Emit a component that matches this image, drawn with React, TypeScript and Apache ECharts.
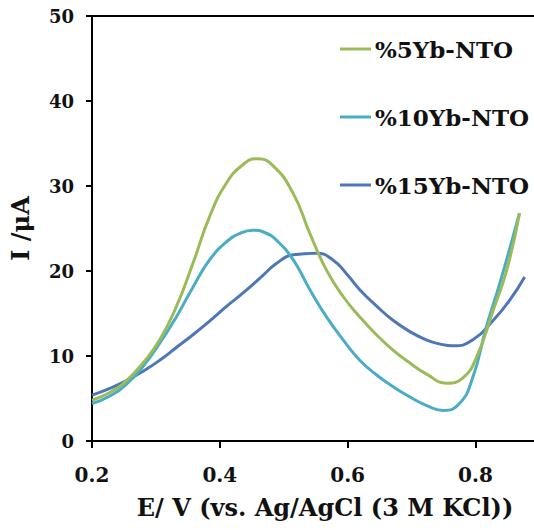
import React, { useEffect, useRef } from "react";
import * as echarts from "echarts";

const seriesNames = ["%5Yb-NTO", "%10Yb-NTO", "%15Yb-NTO"];
const seriesColors = ["#9BBB59", "#4BACC6", "#4F77B8"];

const v5 = [0.2, 0.228, 0.254, 0.28, 0.306, 0.332, 0.358, 0.384, 0.41, 0.436, 0.457, 0.483, 0.515, 0.541, 0.567, 0.593, 0.619, 0.645, 0.671, 0.697, 0.723, 0.755, 0.78, 0.802, 0.828, 0.849, 0.869];
const i5 = [4.8, 5.7, 7.1, 9.2, 11.9, 15.8, 20.9, 26.4, 30.3, 32.5, 33.2, 32.4, 29.1, 24.4, 20.1, 17.0, 14.6, 12.5, 10.7, 9.2, 7.9, 6.8, 7.4, 9.9, 15.4, 20.1, 26.8];

const v10 = [0.2, 0.228, 0.254, 0.28, 0.306, 0.332, 0.358, 0.384, 0.41, 0.431, 0.452, 0.471, 0.489, 0.515, 0.541, 0.567, 0.593, 0.619, 0.645, 0.671, 0.697, 0.723, 0.749, 0.775, 0.796, 0.817, 0.838, 0.869];
const i10 = [4.4, 5.3, 6.7, 8.8, 11.5, 14.6, 18.1, 21.3, 23.4, 24.4, 24.8, 24.5, 23.6, 21.3, 17.8, 14.6, 11.9, 9.5, 7.8, 6.4, 5.2, 4.2, 3.6, 4.4, 7.5, 13.4, 18.5, 26.8];

const v15 = [0.2, 0.228, 0.254, 0.28, 0.306, 0.332, 0.358, 0.384, 0.41, 0.436, 0.462, 0.489, 0.515, 0.551, 0.577, 0.598, 0.619, 0.645, 0.671, 0.697, 0.723, 0.745, 0.765, 0.796, 0.828, 0.854, 0.877];
const i15 = [5.4, 6.2, 7.1, 8.2, 9.5, 11.0, 12.5, 14.1, 15.8, 17.4, 19.1, 20.9, 21.9, 22.1, 21.3, 19.7, 17.8, 15.9, 14.2, 12.9, 11.9, 11.4, 11.2, 11.9, 14.2, 16.6, 19.3];

const xTicks = [0.2, 0.4, 0.6, 0.8];
const yTicks = [0, 10, 20, 30, 40, 50];

const FONT = "DejaVu Serif";

export default function App() {
  const ref = useRef<HTMLDivElement>(null);
  useEffect(() => {
    if (!ref.current) return;
    const chart = echarts.init(ref.current, null, { renderer: "svg" });
    const pairs = (xs: number[], ys: number[]) => xs.map((x, k) => [x, ys[k]]);
    const data = [pairs(v5, i5), pairs(v10, i10), pairs(v15, i15)];
    const xMax = 0.2 + 442 / 639;
    const legendTops = [44, 112, 180];
    chart.setOption({
      animation: false,
      backgroundColor: "#ffffff",
      grid: { left: 92, right: 0, top: 16, bottom: 89, containLabel: false },
      legend: seriesNames.map((n, k) => ({
        data: [n],
        left: 335,
        top: legendTops[k] - 15,
        icon: "rect",
        itemWidth: 31,
        itemHeight: 3,
        itemGap: 0,
        textStyle: { fontFamily: FONT, fontWeight: "bold", fontSize: 23, color: "#111", padding: [0, 0, 0, -1], lineHeight: 30 },
        selectedMode: false,
      })),
      xAxis: [
        {
          type: "value",
          min: 0.2,
          max: xMax,
          interval: 0.2,
          name: "E/ V (vs. Ag/AgCl (3 M KCl))",
          nameLocation: "middle",
          nameGap: 54,
          nameTextStyle: { fontFamily: FONT, fontWeight: "bold", fontSize: 24, color: "#111", padding: [0, 0, 0, 24] },
          axisLine: { show: true, onZero: false, lineStyle: { color: "#000", width: 2 } },
          axisTick: { show: true, length: 7, lineStyle: { color: "#000", width: 2 } },
          axisLabel: {
            showMaxLabel: false,
            margin: 24,
            fontFamily: FONT,
            fontWeight: "bold",
            fontSize: 20,
            color: "#111",
            formatter: (val: number) => {
              const t = xTicks.find((x) => Math.abs(x - val) < 1e-6);
              return t === undefined ? "" : t.toFixed(1);
            },
          },
          splitLine: { show: false },
        },
        {
          type: "value",
          position: "top",
          min: 0.2,
          max: xMax,
          axisLine: { show: true, onZero: false, lineStyle: { color: "#000", width: 2 } },
          axisTick: { show: false },
          axisLabel: { show: false },
          splitLine: { show: false },
        },
      ],
      yAxis: {
        type: "value",
        min: 0,
        max: 50,
        interval: 10,
        name: "I /μA",
        nameLocation: "middle",
        nameGap: 60,
        nameRotate: 90,
        nameTextStyle: { fontFamily: FONT, fontWeight: "bold", fontSize: 24, color: "#111" },
        axisLine: { show: true, onZero: false, lineStyle: { color: "#000", width: 2 } },
        axisTick: { show: true, length: 6, lineStyle: { color: "#000", width: 2 } },
        axisLabel: {
          margin: 18,
          fontFamily: FONT,
          fontWeight: "bold",
          fontSize: 18,
          color: "#111",
          formatter: (val: number) => (yTicks.includes(val) ? String(val) : ""),
        },
        splitLine: { show: false },
      },
      series: seriesNames.map((n, k) => ({
        name: n,
        type: "line",
        data: data[k],
        smooth: 0.5,
        showSymbol: false,
        symbol: "none",
        lineStyle: { color: seriesColors[k], width: 3 },
        itemStyle: { color: seriesColors[k] },
        z: 3 - k,
      })),
    });
    return () => chart.dispose();
  }, []);
  return (
    <div
      ref={ref}
      style={{ position: "absolute", left: 0, top: 0, width: 534, height: 530 }}
    />
  );
}
